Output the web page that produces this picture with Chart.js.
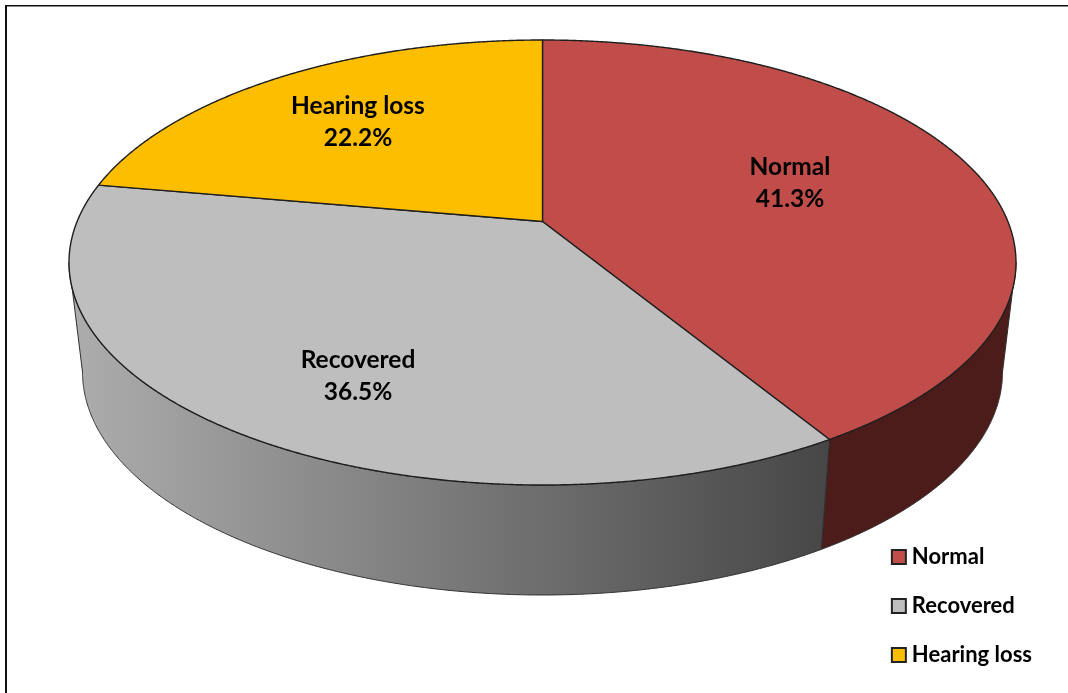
<!DOCTYPE html>
<html><head><meta charset="utf-8">
<script src="https://cdn.jsdelivr.net/npm/chart.js@4"></script>
<style>html,body{margin:0;padding:0;background:#fff}canvas{display:block}</style>
</head><body>
<canvas id="c" width="1068" height="693"></canvas>
<script>
const categories = ['Normal', 'Recovered', 'Hearing loss'];
const shares = [41.3, 36.5, 22.2];
const faceColors = ['#C04D4A', '#BEBEBE', '#FDBE00'];

// Perspective disc: top rim, bottom rim, and the boost that moves the hub up the ellipse
const topRim = {cx: 542.5, cy: 262.5, rx: 473.5, ry: 222.5};
const baseRim = {cx: 542.5, cy: 372, rx: 460, ry: 223};
const tilt = -0.184;

function project(angle, rim, r = 1) {
  const x = r * Math.cos(angle), y = r * Math.sin(angle);
  const d = 1 + tilt * y;
  return [rim.cx + rim.rx * x * Math.sqrt(1 - tilt * tilt) / d,
          rim.cy + rim.ry * (y + tilt) / d];
}
function arcPoints(a0, a1, rim) {
  const n = Math.max(2, Math.ceil(Math.abs(a1 - a0) / 0.004));
  const pts = [];
  for (let i = 0; i <= n; i++) pts.push(project(a0 + (a1 - a0) * i / n, rim));
  return pts;
}
function trace(ctx, pts) {
  pts.forEach((p, i) => i ? ctx.lineTo(p[0], p[1]) : ctx.moveTo(p[0], p[1]));
}

// Each pie arc keeps the angles Chart.js computed and is drawn in perspective
Chart.ArcElement.prototype.draw = function (ctx) {
  const o = this.options;
  ctx.save();
  ctx.beginPath();
  trace(ctx, [project(0, topRim, 0)].concat(arcPoints(this.startAngle, this.endAngle, topRim)));
  ctx.closePath();
  ctx.fillStyle = o.backgroundColor;
  ctx.fill();
  ctx.lineWidth = o.borderWidth;
  ctx.strokeStyle = o.borderColor;
  ctx.lineJoin = 'round';
  ctx.stroke();
  ctx.restore();
};

const wallPlugin = {
  id: 'wall',
  beforeDatasetsDraw(chart, args, opts) {
    const ctx = chart.ctx;
    // the near side of the drum runs between the two silhouette angles
    const right = Math.asin(-tilt), left = Math.PI - right;
    chart.getDatasetMeta(0).data.forEach((arc, i) => {
      const a0 = Math.max(arc.startAngle, right);
      const a1 = Math.min(arc.endAngle, left);
      if (a1 <= a0) return;
      const top = arcPoints(a0, a1, topRim);
      const base = arcPoints(a0, a1, baseRim).reverse();
      const w = opts.walls[i];
      let fill = w[0];
      if (w.length > 1) {
        const g = ctx.createLinearGradient(opts.gradX[0], 0, opts.gradX[1], 0);
        w.forEach((c, k) => g.addColorStop(k / (w.length - 1), c));
        fill = g;
      }
      ctx.save();
      ctx.beginPath();
      trace(ctx, top.concat(base));
      ctx.closePath();
      ctx.fillStyle = fill;
      ctx.fill();
      ctx.lineWidth = 1;
      ctx.strokeStyle = opts.edge;
      ctx.stroke();
      ctx.restore();
    });
  }
};

const labelPlugin = {
  id: 'sliceLabels',
  afterDatasetsDraw(chart, args, opts) {
    const ctx = chart.ctx;
    ctx.save();
    ctx.font = opts.font;
    ctx.fillStyle = '#000';
    ctx.textAlign = 'center';
    ctx.textBaseline = 'middle';
    categories.forEach((name, i) => {
      const [x, y] = opts.anchors[i];
      ctx.fillText(name, x, y);
      ctx.fillText(shares[i].toFixed(1) + '%', x, y + opts.lineGap);
    });
    ctx.restore();
  }
};

const framePlugin = {
  id: 'frame',
  beforeDraw(chart) {
    const ctx = chart.ctx;
    ctx.save();
    ctx.fillStyle = '#111';
    ctx.fillRect(5, 5, chart.width - 5, 1.5);
    ctx.fillRect(5, 5, 2, chart.height - 5);
    ctx.restore();
  }
};

new Chart(document.getElementById('c'), {
  type: 'pie',
  data: {
    labels: categories,
    datasets: [{
      data: shares,
      backgroundColor: faceColors,
      borderColor: '#1e1e1e',
      borderWidth: 1.4
    }]
  },
  options: {
    responsive: false,
    animation: false,
    layout: {padding: {right: 26, bottom: 0}},
    plugins: {
      tooltip: {enabled: false},
      legend: {
        position: 'right',
        align: 'end',
        labels: {
          usePointStyle: true,
          boxWidth: 4,
          boxHeight: 14,
          padding: 27,
          color: '#000',
          font: {family: 'Lato', weight: 'bold', size: 22},
          generateLabels(chart) {
            return categories.map((t, i) => ({
              text: t, fillStyle: faceColors[i], strokeStyle: '#222',
              lineWidth: 2, pointStyle: 'rect', index: i, hidden: false
            }));
          }
        }
      },
      wall: {
        walls: [['#4C1C1B'], ['#ADADAD', '#474747'], ['#7a5c00']],
        gradX: [70, 825],
        edge: '#2e2e2e'
      },
      sliceLabels: {
        font: 'bold 24.5px Lato',
        lineGap: 32.5,
        anchors: [[790, 167], [358, 360], [358, 106]]
      }
    }
  },
  plugins: [framePlugin, wallPlugin, labelPlugin]
});
</script>
</body></html>
